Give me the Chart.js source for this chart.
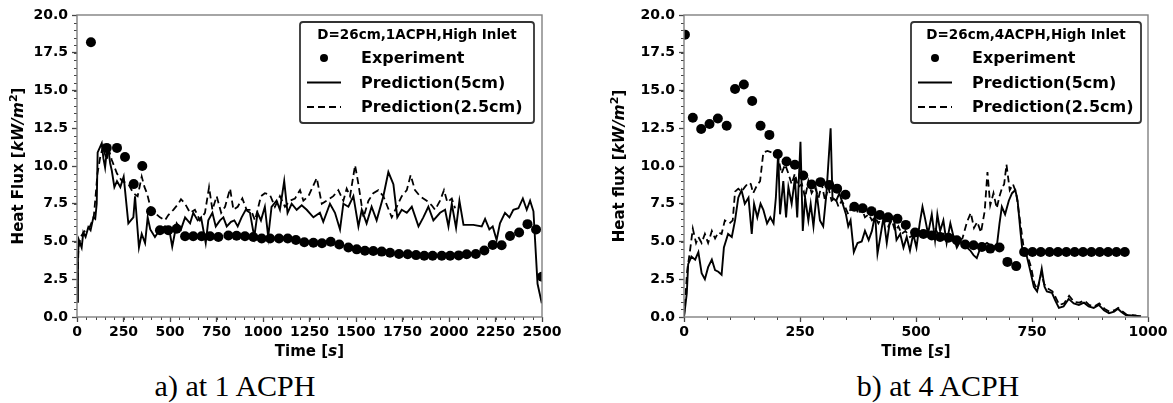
<!DOCTYPE html>
<html>
<head>
<meta charset="utf-8">
<script src="https://cdn.jsdelivr.net/npm/chart.js@4.4.0/dist/chart.umd.min.js"></script>
<style>
  body { margin: 0; background: #fff; width: 1173px; height: 403px; overflow: hidden; position: relative; }
  canvas { position: absolute; top: 0; }
  #HfLeft { left: 0; }
  #HfRight { left: 590px; }
  .cap { position: absolute; top: 370px; font-family: "Liberation Serif", serif; font-size: 30px; line-height: 32px; text-align: center; color: #000; }
</style>
</head>
<body>
<canvas id="HfLeft" width="580" height="360"></canvas>
<canvas id="HfRight" width="583" height="360"></canvas>
<div class="cap" style="left:0;width:470px;">a) at 1 ACPH</div>
<div class="cap" style="left:778px;width:320px;">b) at 4 ACPH</div>
<script>
const xTicksLeft = [0, 250, 500, 750, 1000, 1250, 1500, 1750, 2000, 2250, 2500];
const xTicksRight = [0, 250, 500, 750, 1000];
const yTicks = [0, 2.5, 5, 7.5, 10, 12.5, 15, 17.5, 20];

// 1 ACPH
const leftExpTime = [75,160,215,258,305,351,398,446,491,536,581,625,670,715,760,814,858,903,948,993,1038,1086,1133,1177,1222,1271,1317,1364,1410,1459,1504,1548,1593,1638,1683,1731,1778,1823,1867,1912,1961,2006,2052,2095,2144,2190,2235,2283,2328,2377,2422,2468,2500];
const leftExpFlux = [18.2,11.2,11.2,10.6,8.8,10.0,7.0,5.75,5.75,5.85,5.35,5.35,5.35,5.35,5.3,5.4,5.38,5.35,5.3,5.2,5.2,5.2,5.2,5.1,4.95,4.92,4.88,4.98,4.8,4.6,4.48,4.39,4.37,4.33,4.26,4.17,4.15,4.1,4.06,4.06,4.06,4.06,4.08,4.15,4.17,4.4,4.77,4.75,5.36,5.6,6.15,5.8,2.66];
const left5Time = [0,5,10,25,34,46,61,73,88,98,106,111,122,133,142,151,160,169,178,187,201,215,233,251,276,303,312,333,348,366,380,394,419,446,473,500,512,536,559,581,608,625,649,667,692,706,728,746,769,787,805,828,846,864,885,907,930,953,971,989,1010,1028,1046,1073,1091,1114,1132,1154,1181,1208,1235,1271,1306,1324,1360,1387,1414,1432,1459,1486,1513,1531,1557,1584,1611,1647,1674,1701,1722,1746,1773,1800,1836,1862,1889,1916,1952,1979,1997,2015,2038,2056,2078,2131,2176,2194,2217,2235,2256,2274,2301,2325,2346,2373,2397,2418,2436,2454,2476,2499];
const left5Flux = [1.0,4.0,5.1,4.6,5.6,5.3,5.95,5.75,6.6,6.5,7.5,10.9,11.2,11.5,10.5,9.9,11.0,11.1,10.2,9.7,8.6,9.0,8.6,9.3,6.2,6.6,8.0,4.6,5.5,4.9,6.6,5.8,5.3,5.8,6.0,5.5,4.65,6.2,5.8,6.6,6.2,6.9,6.4,6.6,4.9,6.4,6.9,6.0,6.4,6.6,6.0,6.3,6.4,6.0,6.6,7.1,6.9,5.3,6.9,6.4,7.3,5.3,7.3,7.7,7.1,9.0,6.9,7.5,7.1,7.4,7.1,6.6,6.9,6.3,7.5,6.9,5.8,7.5,7.3,8.0,6.0,7.1,6.2,7.3,6.4,8.0,9.6,8.8,6.6,7.1,6.9,7.3,6.0,6.6,7.3,6.4,6.9,7.1,6.0,7.5,5.9,7.7,6.1,6.1,6.0,6.5,5.8,6.0,5.1,6.2,6.9,6.6,7.1,7.2,7.85,7.1,7.7,7.0,2.2,0.9];
const left25Time = [0,8,20,35,50,70,90,100,110,125,140,150,160,169,187,215,242,276,303,326,348,363,376,399,419,446,473,491,518,545,559,581,608,634,661,688,710,728,751,775,796,823,841,864,889,912,935,957,989,1010,1037,1064,1091,1118,1145,1172,1199,1217,1244,1289,1316,1342,1378,1405,1432,1450,1468,1495,1513,1540,1567,1593,1620,1647,1692,1719,1746,1773,1794,1817,1844,1880,1907,1925,1952,1973,1991,2015,2033];
const left25Flux = [1.0,4.6,5.3,5.6,5.8,6.0,6.6,8.0,9.5,10.6,11.3,10.8,10.4,11.2,10.4,9.5,9.0,8.8,8.2,8.0,9.3,8.6,8.2,7.1,6.9,6.6,6.4,6.75,7.1,7.5,7.8,7.5,6.9,7.1,6.4,6.9,8.6,7.1,8.0,6.9,7.3,8.5,7.1,7.3,7.85,7.1,7.1,6.4,8.0,8.2,8.1,7.3,8.0,7.3,7.7,7.85,8.4,7.7,8.0,9.2,7.5,7.7,8.0,8.4,7.7,8.5,8.0,10.05,8.8,6.6,7.7,8.2,8.4,8.0,6.6,7.3,8.0,8.4,9.4,8.4,8.0,7.7,7.4,7.1,7.7,8.4,7.6,7.85,7.2];

// 4 ACPH
const rightExpTime = [2,19,37,55,73,92,110,129,147,165,184,202,221,239,257,275,294,313,330,348,367,385,404,422,440,460,478,498,516,534,552,570,588,606,624,642,660,680,697,716,733,751,769,788,806,824,842,860,878,896,914,932,950];
const rightExpFlux = [18.7,13.2,12.45,12.78,13.15,12.67,15.1,15.4,14.3,12.67,12.06,10.8,10.3,10.08,9.37,8.78,8.93,8.75,8.5,8.1,7.3,7.2,7.0,6.75,6.6,6.5,6.1,5.6,5.5,5.4,5.3,5.25,5.08,4.8,4.75,4.64,4.53,4.6,3.65,3.37,4.3,4.3,4.3,4.3,4.3,4.3,4.3,4.3,4.3,4.3,4.3,4.3,4.3];
const right5Time = [0,6,9,16,24,31,38,45,52,60,67,74,81,86,95,103,110,117,124,131,139,146,151,158,165,171,179,186,193,198,203,207,214,220,225,232,239,244,251,256,261,268,273,279,286,293,300,307,316,320,328,335,342,349,354,359,366,374,383,390,398,405,412,417,422,430,437,445,453,458,466,473,480,487,494,501,508,514,519,526,534,541,546,552,559,566,574,581,588,595,603,610,617,624,631,639,646,653,660,667,675,680,685,692,700,707,714,719,725,730,739,746,754,761,768,771,777,782,793,800,808,818,829,840,851,862,872,883,894,905,916,927,935,942,952,970,985];
const right5Flux = [0,1.56,3.5,4.0,3.8,4.3,2.9,2.5,3.3,3.8,3.1,3.0,2.8,4.6,5.5,5.3,6.4,7.9,8.4,7.5,7.9,5.5,7.5,6.6,7.5,7.1,6.2,6.6,6.2,7.9,10.9,6.8,9.0,6.6,8.6,7.5,9.2,6.6,11.6,5.7,7.9,6.4,7.5,6.0,8.2,6.4,6.0,8.2,12.5,7.9,7.7,8.2,7.5,6.8,6.0,6.4,4.3,4.9,5.0,5.7,5.1,5.7,6.8,4.2,5.1,6.6,4.9,6.6,6.4,5.1,5.5,4.6,5.3,4.4,5.5,4.6,6.2,7.3,6.6,5.5,6.8,5.1,6.8,5.7,6.4,4.9,6.2,5.3,4.6,5.0,4.75,4.6,4.4,4.1,3.9,4.6,4.75,4.9,4.75,4.6,4.9,6.2,7.3,6.8,7.7,8.2,8.4,7.7,5.7,4.2,4.0,3.1,2.0,1.7,2.7,3.2,2.0,1.7,1.6,1.1,0.6,0.7,1.2,0.9,0.8,0.95,0.7,0.6,0.8,0.45,0.25,0.35,0.55,0.35,0.13,0.08,0.05];
const right25Time = [0,7,13,19,26,31,38,45,52,60,67,74,81,88,98,105,110,117,124,131,139,144,149,157,164,171,180,189,196,203,210,218,225,232,239,246,254,261,268,275,282,290,297,304,311,318,326,333,340,347,354,361,368,376,383,390,398,405,412,419,426,433,440,448,455,462,469,477,487,498,508,516,526,534,541,552,561,570,580,590,600,610,618,625,632,640,648,654,660,667,674,680,686,690,695,702,709,716,725,732,740,748,755,762,770,776,783,794,801,809,819,830,841,852,863,873,884,895,906,917,928,936,944,954,975];
const right25Flux = [0,3.1,4.4,5.85,4.9,5.3,4.9,5.5,4.9,5.7,5.2,5.6,5.5,6.4,6.2,6.4,8.3,8.5,8.3,8.6,8.9,8.8,8.2,8.7,9.0,10.9,11.0,10.9,10.8,10.6,9.5,10.1,9.5,8.8,9.5,8.6,8.8,7.9,9.0,8.2,8.6,7.9,8.8,7.7,8.6,7.7,7.9,7.3,7.7,7.3,6.8,7.3,7.5,6.8,7.2,6.6,6.8,6.4,6.6,6.2,6.6,6.4,6.0,6.4,5.7,6.0,5.5,5.7,5.3,5.5,5.7,5.3,5.8,5.4,5.9,5.2,5.6,5.1,5.4,5.0,5.2,6.3,6.9,5.9,6.3,5.6,7.0,9.6,7.4,8.2,7.2,8.0,8.6,8.8,10.1,8.4,8.8,8.2,6.2,4.6,4.1,3.3,2.2,1.8,2.9,2.2,1.9,1.7,1.3,0.8,0.9,1.4,1.0,0.95,1.1,0.8,0.7,0.9,0.55,0.35,0.45,0.6,0.4,0.15,0.1];

function pts(ts, qs) {
  return ts.map((t, i) => ({ x: t, y: qs[i] }));
}

function richText(ctx, parts, x, y) {
  let w = 0;
  parts.forEach(p => { ctx.font = p.font; w += ctx.measureText(p.t).width; });
  let cx = x - w / 2;
  parts.forEach(p => {
    ctx.font = p.font;
    ctx.fillText(p.t, cx, y + (p.dy || 0));
    cx += ctx.measureText(p.t).width;
  });
}

const B = 'bold 15px "DejaVu Sans"';
const BI = 'italic bold 15.5px "DejaVu Sans"';
const SUP = 'bold 11px "DejaVu Sans"';

const frame = {
  id: 'frame',
  afterDatasetsDraw(chart, args, opts) {
    const ctx = chart.ctx;
    const a = chart.chartArea;
    const sx = chart.scales.x, sy = chart.scales.y;
    ctx.save();
    // minor ticks
    ctx.strokeStyle = '#444';
    ctx.lineWidth = 1;
    ctx.beginPath();
    for (let v = sx.min; v <= sx.max + 1e-6; v += 50) {
      const p = Math.round(sx.getPixelForValue(v)) + 0.5;
      ctx.moveTo(p, a.bottom); ctx.lineTo(p, a.bottom + 3);
    }
    for (let v = sy.min; v <= sy.max + 1e-6; v += 0.5) {
      const p = Math.round(sy.getPixelForValue(v)) + 0.5;
      ctx.moveTo(a.left, p); ctx.lineTo(a.left - 3, p);
    }
    ctx.stroke();
    // spines
    ctx.strokeStyle = '#808080';
    ctx.lineWidth = 1.4;
    ctx.strokeRect(a.left, a.top, a.right - a.left, a.bottom - a.top);

    // axis titles
    ctx.fillStyle = '#000';
    ctx.textBaseline = 'middle';
    ctx.textAlign = 'left';
    richText(ctx, [{ t: 'Time [', font: B }, { t: 's', font: BI }, { t: ']', font: B }], (a.left + a.right) / 2, 352);
    ctx.save();
    ctx.translate(opts.yTitleX, (a.top + a.bottom) / 2);
    ctx.rotate(-Math.PI / 2);
    richText(ctx, [{ t: opts.yTitle + ' [', font: B }, { t: 'kW/m', font: BI }, { t: '2', font: SUP, dy: -5 }, { t: ']', font: B }], 0, 0);
    ctx.restore();

    // legend box
    const bx = opts.box[0], by = opts.box[1], bw = opts.box[2], bh = opts.box[3];
    ctx.fillStyle = '#fff';
    ctx.strokeStyle = '#333';
    ctx.lineWidth = 1.8;
    ctx.beginPath();
    ctx.roundRect(bx, by, bw, bh, 3);
    ctx.fill();
    ctx.stroke();
    ctx.fillStyle = '#000';
    ctx.textAlign = 'center';
    ctx.font = 'bold 13.5px "DejaVu Sans"';
    ctx.fillText(opts.legendTitle, bx + bw / 2, by + 13);
    ctx.textAlign = 'left';
    ctx.font = 'bold 16px "DejaVu Sans"';
    chart.data.datasets.forEach((ds, i) => {
      const ry = by + 36 + i * 24.5;
      if (ds.showLine) {
        ctx.strokeStyle = '#000';
        ctx.lineWidth = ds.borderWidth;
        ctx.setLineDash(ds.borderDash || []);
        ctx.beginPath();
        ctx.moveTo(bx + 7, ry); ctx.lineTo(bx + 41, ry);
        ctx.stroke();
        ctx.setLineDash([]);
      } else {
        ctx.beginPath();
        ctx.arc(bx + 24, ry, 4, 0, Math.PI * 2);
        ctx.fill();
      }
      ctx.fillText(ds.label, bx + 61, ry + 1);
    });
    ctx.restore();
  }
};

function makeChart(id, xTicks, xMax, yWidth, padRight, sets, opts) {
  let context = document.querySelector(id).getContext('2d');
  const tickFont = { family: 'DejaVu Sans', weight: 'bold', size: 14 };
  new Chart(context, {
    type: 'scatter',
    data: {
      datasets: [
        { label: 'Experiment', data: sets[0], showLine: false, pointRadius: 5, pointBackgroundColor: '#000', pointBorderWidth: 0 },
        { label: 'Prediction(5cm)', data: sets[1], showLine: true, pointRadius: 0, borderColor: '#000', borderWidth: 1.9 },
        { label: 'Prediction(2.5cm)', data: sets[2], showLine: true, pointRadius: 0, borderColor: '#000', borderWidth: 1.8, borderDash: [7, 4] }
      ]
    },
    options: {
      responsive: false,
      animation: false,
      events: [],
      layout: { padding: { top: 15, right: padRight, left: 0, bottom: 0 } },
      plugins: { legend: { display: false }, tooltip: { enabled: false }, frame: opts },
      scales: {
        x: {
          type: 'linear', min: 0, max: xMax,
          afterFit(s) { s.height = 43; },
          afterBuildTicks(s) { s.ticks = xTicks.map(v => ({ value: v })); },
          ticks: { font: tickFont, color: '#000', padding: 2, maxRotation: 0, autoSkip: false, callback: v => String(v) },
          grid: { drawOnChartArea: false, tickLength: 5, tickColor: '#444', tickWidth: 1.3 },
          border: { display: false }
        },
        y: {
          type: 'linear', min: 0, max: 20,
          afterFit(s) { s.width = yWidth; },
          afterBuildTicks(s) { s.ticks = yTicks.map(v => ({ value: v })); },
          ticks: { font: tickFont, color: '#000', padding: 4, autoSkip: false, callback: v => v.toFixed(1) },
          grid: { drawOnChartArea: false, tickLength: 5, tickColor: '#444', tickWidth: 1.3 },
          border: { display: false }
        }
      }
    },
    plugins: [frame]
  });
}

window.addEventListener('load', function () {
  makeChart('#HfLeft', xTicksLeft, 2500, 77, 38,
    [pts(leftExpTime, leftExpFlux), pts(left5Time, left5Flux), pts(left25Time, left25Flux)],
    { yTitle: 'Heat Flux', yTitleX: 19, legendTitle: 'D=26cm,1ACPH,High Inlet', box: [300, 22, 234, 101] });
  makeChart('#HfRight', xTicksRight, 1000, 94, 25,
    [pts(rightExpTime, rightExpFlux), pts(right5Time, right5Flux), pts(right25Time, right25Flux)],
    { yTitle: 'Heat flux', yTitleX: 30, legendTitle: 'D=26cm,4ACPH,High Inlet', box: [321, 22, 230, 101] });
});
</script>
</body>
</html>
